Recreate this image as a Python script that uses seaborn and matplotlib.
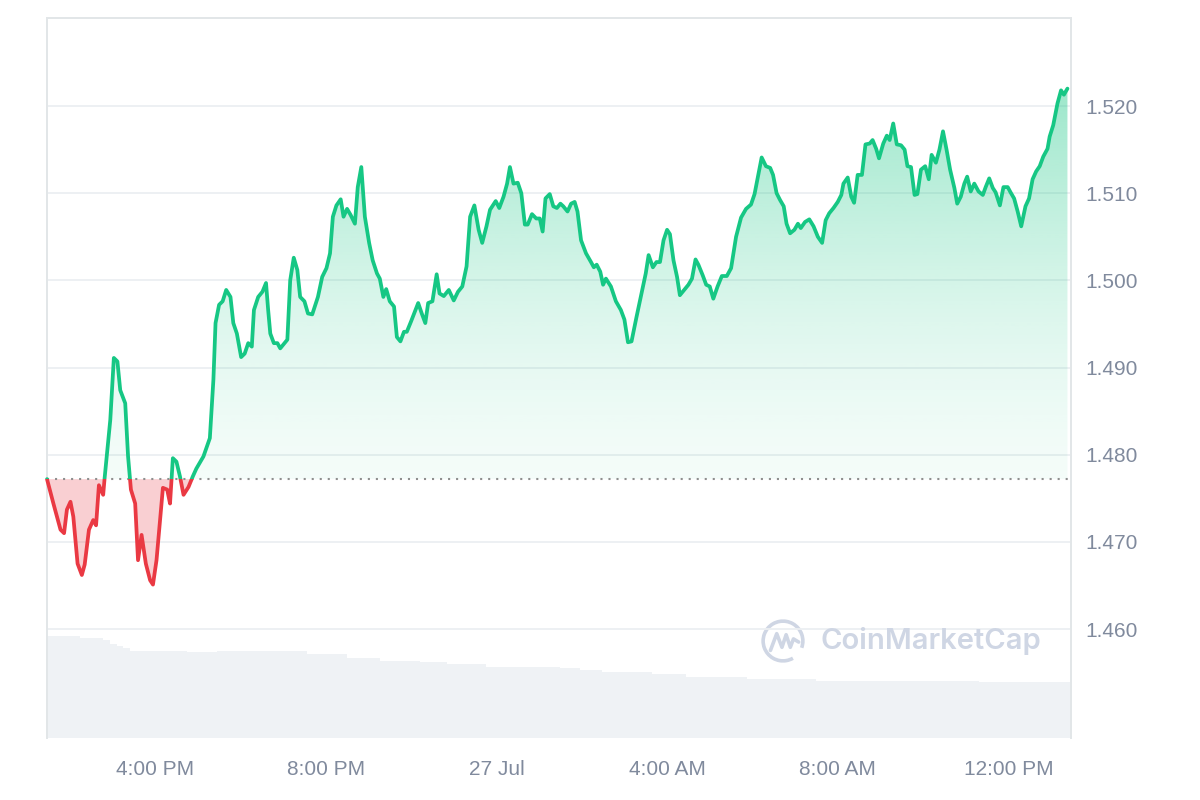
import numpy as np
import pandas as pd
import matplotlib
matplotlib.use("Agg")
import matplotlib.pyplot as plt
import matplotlib.dates as mdates
from matplotlib.patches import Rectangle, Arc
from matplotlib.path import Path
import seaborn as sns

# ---------------- data ----------------
start_time = "2023-07-26 13:28"
minutes = [
    0, 9, 16, 19, 24, 28, 33, 37, 43, 49,
    53, 59, 65, 69, 73, 79, 81, 89, 94, 99,
    103, 110, 114, 118, 124, 128, 133, 139, 145, 149,
    154, 159, 163, 169, 173, 177, 182, 187, 192, 199,
    205, 210, 220, 229, 234, 237, 242, 247, 252, 258,
    262, 267, 273, 278, 283, 288, 291, 297, 303, 308,
    311, 314, 319, 324, 328, 338, 342, 347, 352, 356,
    362, 367, 373, 381, 387, 393, 398, 402, 407, 413,
    417, 422, 427, 433, 437, 442, 447, 453, 458, 464,
    468, 473, 477, 482, 488, 492, 497, 502, 506, 512,
    522, 527, 532, 536, 542, 548, 552, 558, 565, 572,
    578, 584, 590, 595, 601, 607, 612, 618, 623, 631,
    636, 642, 647, 651, 656, 662, 667, 672, 676, 682,
    688, 693, 697, 701, 707, 712, 717, 722, 726, 732,
    737, 742, 746, 751, 758, 765, 769, 773, 778, 782,
    786, 793, 800, 807, 812, 817, 822, 829, 836, 842,
    846, 852, 857, 862, 867, 872, 876, 881, 886, 890,
    896, 902, 907, 912, 916, 922, 927, 932, 937, 943,
    949, 956, 962, 969, 976, 983, 990, 995, 1001, 1005,
    1011, 1017, 1021, 1026, 1031, 1036, 1040, 1045, 1051, 1056,
    1060, 1066, 1072, 1078, 1084, 1090, 1095, 1100, 1106, 1112,
    1117, 1120, 1126, 1131, 1135, 1140, 1146, 1151, 1157, 1161,
    1166, 1170, 1176, 1181, 1185, 1190, 1195, 1201, 1206, 1210,
    1215, 1220, 1224, 1229, 1235, 1240, 1244, 1250, 1255, 1260,
    1265, 1270, 1276, 1280, 1285, 1290, 1294, 1299, 1304, 1310,
    1316, 1320, 1325, 1330, 1334, 1340, 1345, 1351, 1355, 1360,
    1365, 1370, 1376, 1381, 1386, 1391, 1396, 1401, 1407, 1410,
    1415, 1421, 1426, 1430, 1435,
]
prices = [
    1.4772, 1.4744, 1.4723, 1.4714, 1.4710, 1.4737, 1.4746, 1.4729, 1.4675, 1.4662,
    1.4674, 1.4714, 1.4725, 1.4719, 1.4765, 1.4754, 1.4773, 1.4840, 1.4911, 1.4907,
    1.4874, 1.4859, 1.4798, 1.4760, 1.4744, 1.4679, 1.4708, 1.4675, 1.4656, 1.4651,
    1.4679, 1.4725, 1.4762, 1.4760, 1.4744, 1.4796, 1.4792, 1.4775, 1.4754, 1.4763,
    1.4775, 1.4784, 1.4798, 1.4819, 1.4886, 1.4951, 1.4972, 1.4976, 1.4989, 1.4981,
    1.4951, 1.4939, 1.4912, 1.4916, 1.4928, 1.4924, 1.4966, 1.4981, 1.4987, 1.4997,
    1.4966, 1.4939, 1.4928, 1.4928, 1.4922, 1.4932, 1.5000, 1.5026, 1.5012, 1.4981,
    1.4976, 1.4962, 1.4961, 1.4981, 1.5004, 1.5014, 1.5031, 1.5073, 1.5086, 1.5093,
    1.5073, 1.5082, 1.5075, 1.5065, 1.5107, 1.5130, 1.5073, 1.5043, 1.5023, 1.5008,
    1.5002, 1.4981, 1.4990, 1.4976, 1.4970, 1.4935, 1.4930, 1.4941, 1.4941, 1.4953,
    1.4974, 1.4962, 1.4951, 1.4974, 1.4976, 1.5007, 1.4985, 1.4982, 1.4989, 1.4977,
    1.4987, 1.4993, 1.5016, 1.5073, 1.5086, 1.5058, 1.5043, 1.5062, 1.5081, 1.5091,
    1.5083, 1.5096, 1.5111, 1.5130, 1.5111, 1.5112, 1.5100, 1.5064, 1.5064, 1.5076,
    1.5071, 1.5071, 1.5056, 1.5094, 1.5099, 1.5085, 1.5083, 1.5088, 1.5085, 1.5079,
    1.5088, 1.5090, 1.5079, 1.5046, 1.5031, 1.5021, 1.5015, 1.5018, 1.5010, 1.4995,
    1.5002, 1.4993, 1.4976, 1.4966, 1.4955, 1.4929, 1.4930, 1.4958, 1.4985, 1.5008,
    1.5029, 1.5015, 1.5021, 1.5021, 1.5046, 1.5058, 1.5053, 1.5023, 1.5004, 1.4983,
    1.4989, 1.4995, 1.5002, 1.5024, 1.5018, 1.5006, 1.4995, 1.4993, 1.4979, 1.4993,
    1.5005, 1.5005, 1.5014, 1.5050, 1.5072, 1.5082, 1.5087, 1.5099, 1.5124, 1.5141,
    1.5131, 1.5129, 1.5121, 1.5100, 1.5092, 1.5085, 1.5065, 1.5054, 1.5058, 1.5065,
    1.5060, 1.5067, 1.5070, 1.5062, 1.5050, 1.5043, 1.5069, 1.5077, 1.5083, 1.5090,
    1.5098, 1.5111, 1.5118, 1.5096, 1.5089, 1.5121, 1.5121, 1.5156, 1.5157, 1.5161,
    1.5151, 1.5140, 1.5157, 1.5166, 1.5161, 1.5180, 1.5156, 1.5155, 1.5150, 1.5131,
    1.5130, 1.5098, 1.5099, 1.5127, 1.5131, 1.5116, 1.5144, 1.5135, 1.5150, 1.5171,
    1.5150, 1.5127, 1.5106, 1.5088, 1.5096, 1.5111, 1.5119, 1.5102, 1.5111, 1.5102,
    1.5098, 1.5107, 1.5117, 1.5106, 1.5101, 1.5086, 1.5107, 1.5107, 1.5101, 1.5094,
    1.5079, 1.5062, 1.5085, 1.5094, 1.5116, 1.5125, 1.5131, 1.5142, 1.5151, 1.5165,
    1.5178, 1.5203, 1.5218, 1.5213, 1.5220,
]
volume_minutes = [0, 46, 79, 89, 98, 107, 117, 197, 239, 365, 422, 468, 524,
                  562, 618, 721, 749, 781, 851, 899, 984, 1082, 1311]
volume_musd = [51.0, 50.0, 49.0, 47.0, 46.0, 45.0, 43.7, 42.9, 43.7, 42.0, 40.0,
               38.7, 37.9, 37.0, 35.7, 34.9, 33.9, 32.9, 31.9, 30.7, 29.7, 28.7, 27.9]
y_ticks = [1.460, 1.470, 1.480, 1.490, 1.500, 1.510, 1.520]
x_tick_times = ["2023-07-26 16:00", "2023-07-26 20:00", "2023-07-27 00:00",
                "2023-07-27 04:00", "2023-07-27 08:00", "2023-07-27 12:00"]
x_tick_labels = ["4:00 PM", "8:00 PM", "27 Jul", "4:00 AM", "8:00 AM", "12:00 PM"]

# ---------------- style ----------------
GREEN = "#16c784"
RED = "#ea3943"
TEXT = "#808a9d"
GRID = "#eceff2"
FRAME = "#e2e6e8"
VOL = "#eff2f5"

sns.set_theme(style="white")
plt.rcParams["font.family"] = ["Liberation Sans", "DejaVu Sans"]

t0 = pd.Timestamp(start_time)
t_end = t0 + pd.Timedelta(hours=24)
times = t0 + pd.to_timedelta(minutes, unit="m")
df = pd.DataFrame({"time": times, "price": prices})
base = prices[0]
ylo, yhi = 1.4475, 1.5301

fig = plt.figure(figsize=(12, 8), dpi=100)
ax = fig.add_axes([47 / 1200, 62 / 800, 1024 / 1200, 720 / 800])
ax2 = ax.twinx()

# volume (background)
vt = t0 + pd.to_timedelta(volume_minutes + [24 * 60], unit="m")
vv = volume_musd + [volume_musd[-1]]
ax2.fill_between(vt, vv, 0, step="post", color=VOL, lw=0)
ax2.set_ylim(0, max(volume_musd) / 0.1417)
ax2.set_yticks([])
for s in ax2.spines.values():
    s.set_visible(False)
ax.set_zorder(ax2.get_zorder() + 1)
ax.patch.set_visible(False)

# price lines
sns.lineplot(data=df, x="time", y="price", ax=ax, color=GREEN, lw=2.7,
             zorder=6, solid_joinstyle="round", solid_capstyle="round")
green_line = ax.lines[-1]
sns.lineplot(data=df, x="time", y="price", ax=ax, color=RED, lw=2.7,
             zorder=6, solid_joinstyle="round", solid_capstyle="round")
red_line = ax.lines[-1]

x0n, x1n = mdates.date2num(t0), mdates.date2num(t_end)
ax.set_xlim(x0n, x1n)
ax.set_ylim(ylo, yhi)

above = Rectangle((x0n - 1, base), (x1n - x0n) + 2, 1.0, transform=ax.transData)
below = Rectangle((x0n - 1, base - 1.0), (x1n - x0n) + 2, 1.0, transform=ax.transData)
green_line.set_clip_path(above)
red_line.set_clip_path(below)

# fills
tn = mdates.date2num(times)
p = np.array(prices)
gfill = ax.fill_between(tn, p, base, where=p >= base, interpolate=True,
                        facecolor="none", edgecolor="none")
clip = Path.make_compound_path(*gfill.get_paths())
f = np.linspace(0, 1, 256)
grad = np.zeros((256, 1, 4))
grad[:, 0, :3] = matplotlib.colors.to_rgb(GREEN)
grad[:, 0, 3] = 0.05 + 0.48 * f ** 1.5
img = ax.imshow(grad, origin="lower", extent=[x0n, x1n, base, yhi],
                aspect="auto", zorder=3, interpolation="bilinear")
img.set_clip_path(clip, transform=ax.transData)
ax.set_xlim(x0n, x1n)
ax.set_ylim(ylo, yhi)

ax.fill_between(tn, p, base, where=p < base, interpolate=True,
                color=RED, alpha=0.24, lw=0, zorder=3)

# baseline
ax.axhline(base, color="#8f8f8f", lw=1.5, ls=(0, (1, 2.85)), zorder=4)

# axes styling
ax.set_yticks(y_ticks)
ax.set_yticklabels([f"{v:.3f}" for v in y_ticks])
ax.yaxis.tick_right()
ax.set_xticks(mdates.date2num(pd.to_datetime(x_tick_times)))
ax.set_xticklabels(x_tick_labels)
ax.tick_params(axis="y", length=0, pad=10, labelsize=15, labelcolor=TEXT)
ax.tick_params(axis="x", length=0, pad=16, labelsize=15, labelcolor=TEXT)
ax.grid(axis="y", color=GRID, lw=1.3)
ax.grid(axis="x", visible=False)
ax.set_xlabel("")
ax.set_ylabel("")
for side in ["left", "right", "top"]:
    ax.spines[side].set_visible(True)
    ax.spines[side].set_color(FRAME)
    ax.spines[side].set_linewidth(1.4)
ax.spines["bottom"].set_visible(False)

# watermark
WM = "#cfd6e4"
fig.text(820 / 1200, 1 - 641 / 800, "CoinMarketCap", fontsize=21, color=WM,
         fontweight="semibold", family=["Inter", "DejaVu Sans"], va="center", ha="left",
         zorder=10)
lax = fig.add_axes([760 / 1200, 1 - 664 / 800, 46 / 1200, 46 / 800])
lax.set_xlim(-1.1, 1.1)
lax.set_ylim(-1.1, 1.1)
lax.axis("off")
lax.add_patch(Arc((0, 0), 1.9, 1.9, theta1=-20, theta2=300, color=WM, lw=2.6))
lax.plot([-0.6, -0.3, -0.05, 0.15, 0.35, 0.5, 0.75],
         [-0.45, 0.35, -0.3, 0.3, -0.3, 0.1, -0.05], color=WM, lw=2.6,
         solid_joinstyle="round", solid_capstyle="round")

fig.savefig("out.png", dpi=100, facecolor="white")
